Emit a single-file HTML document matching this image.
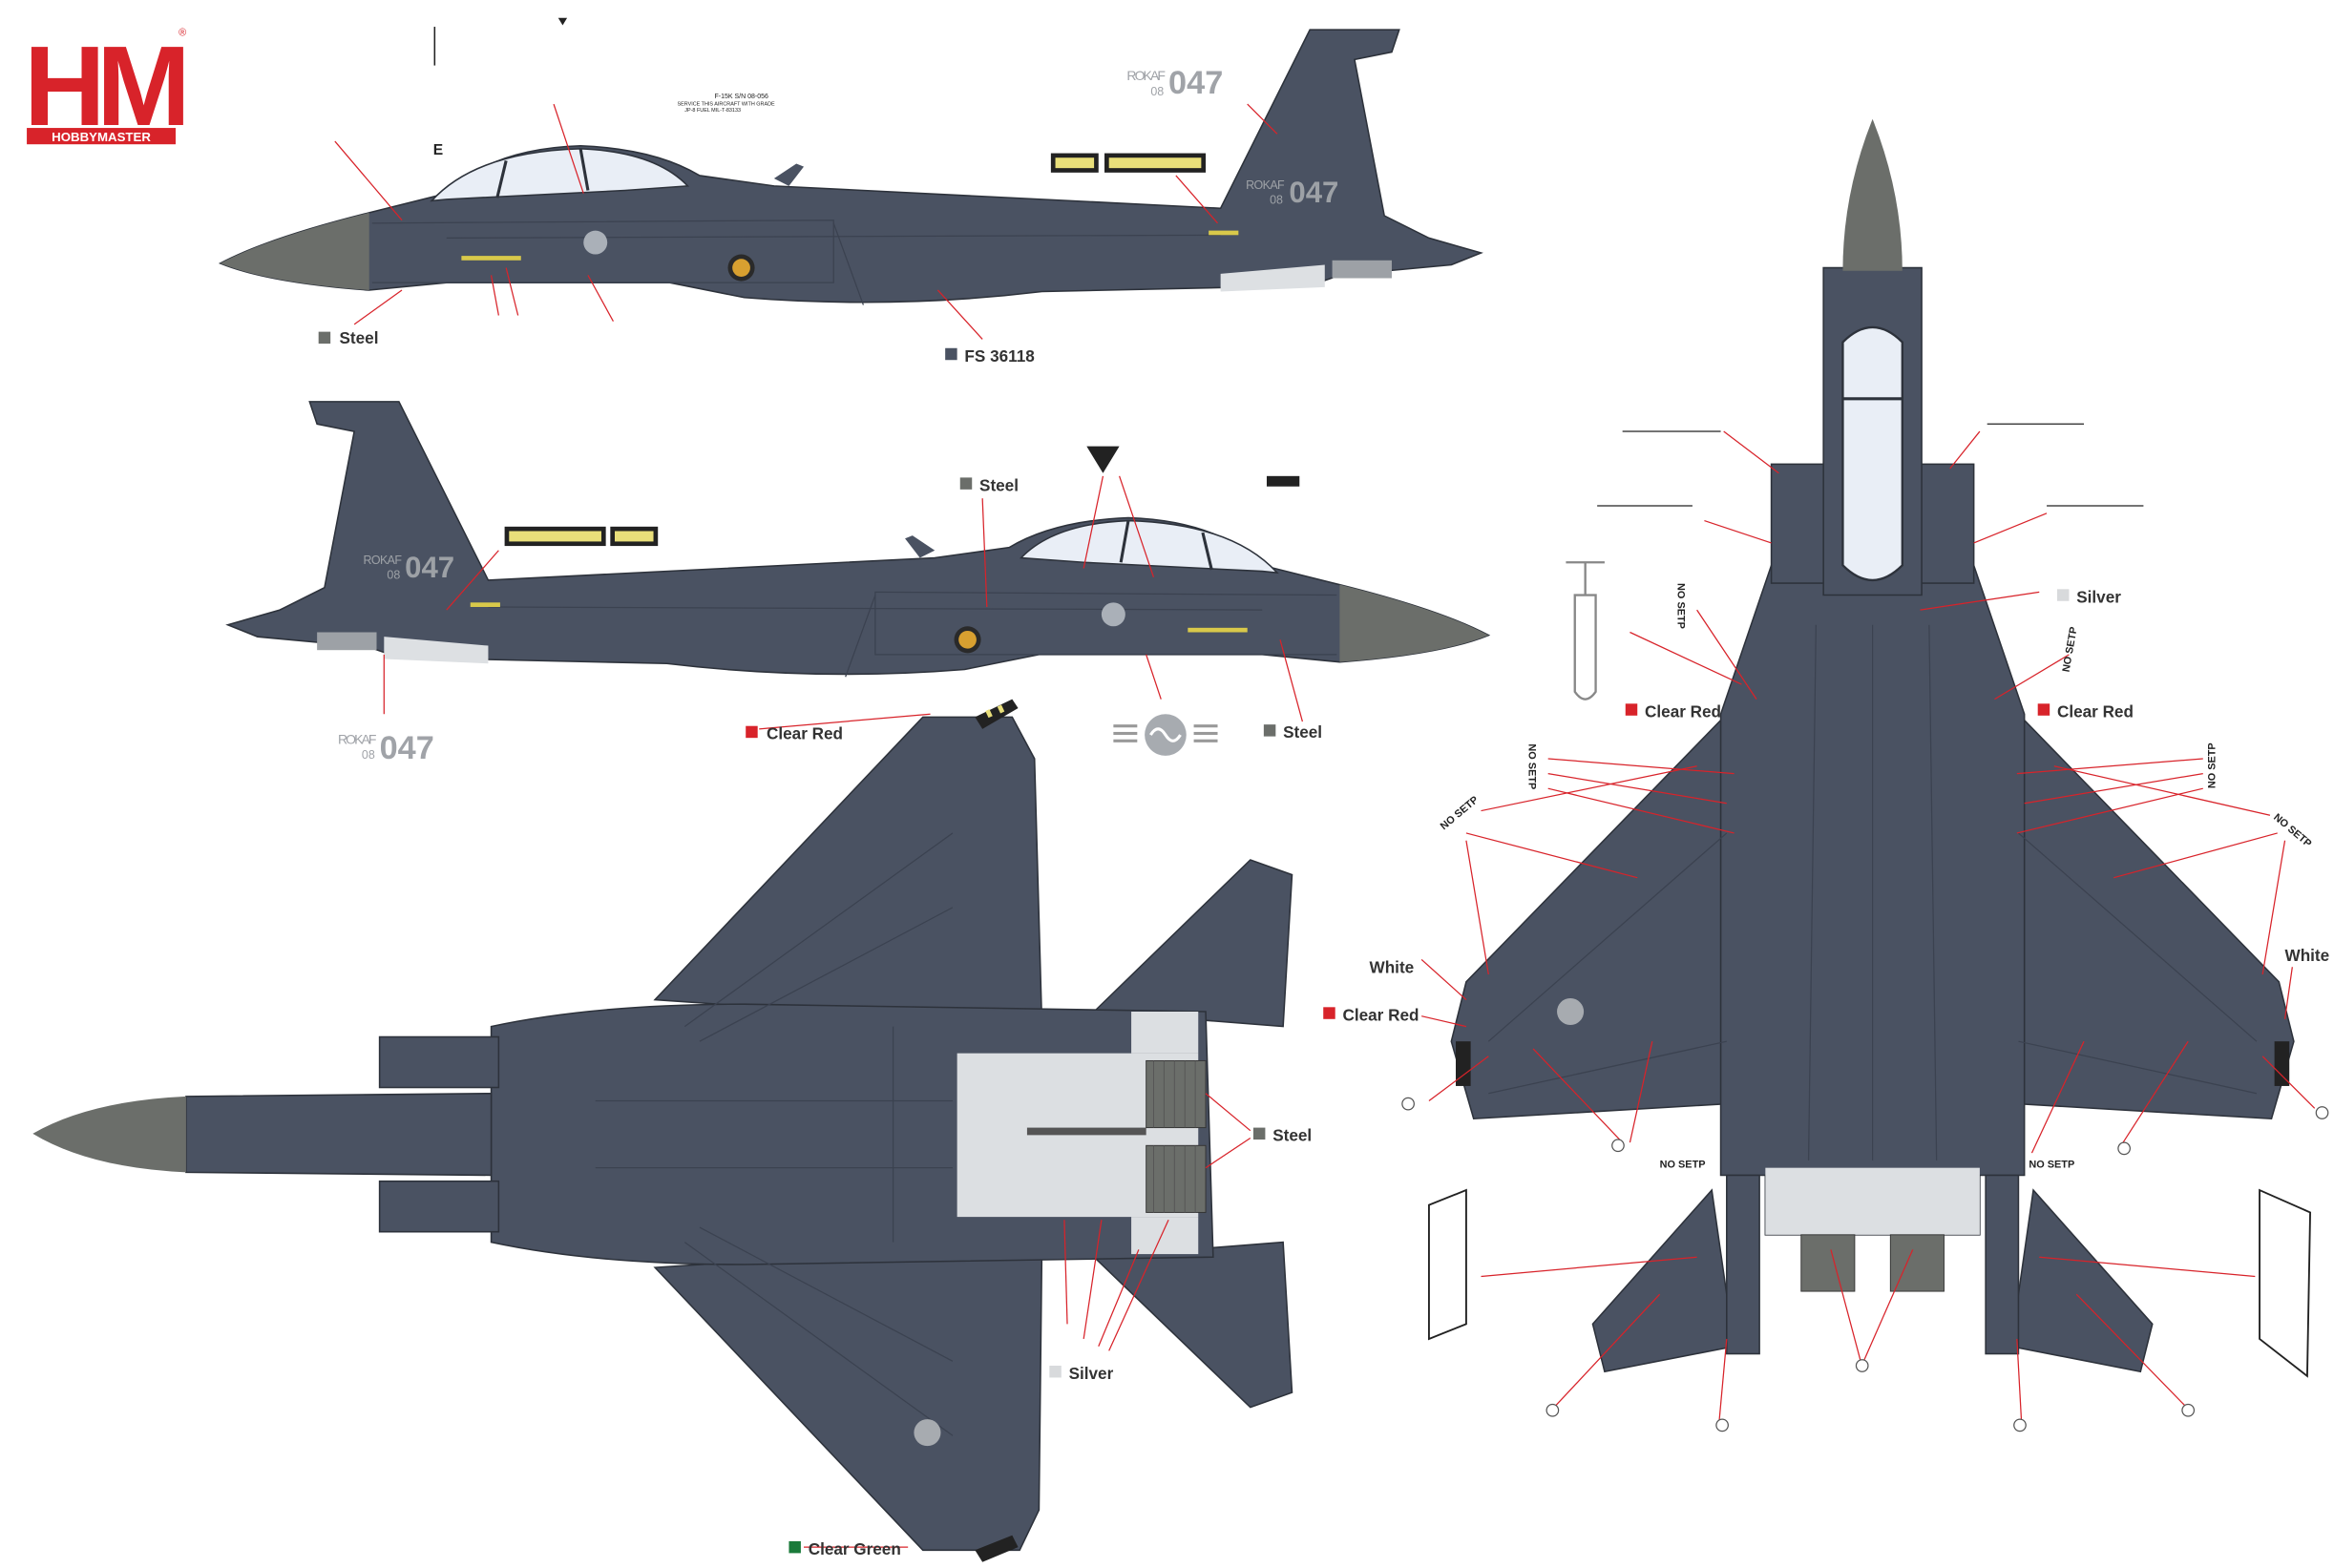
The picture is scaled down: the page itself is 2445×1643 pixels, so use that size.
<!DOCTYPE html>
<html><head><meta charset="utf-8"><style>
html,body{margin:0;padding:0;background:#fff;}
svg{display:block;}
text{font-family:"Liberation Sans",sans-serif;}
</style></head><body>
<svg width="2445" height="1643" viewBox="0 0 1568 1054" preserveAspectRatio="none" xmlns="http://www.w3.org/2000/svg">
<defs>
<g id="side">
  <path d="M148,177 Q180,160 248,143 L300,130 Q330,100 390,98 Q440,100 470,118 L520,125 L820,140 L880,20 L940,20 L935,35 L910,40 L930,145 L960,160 L995,170 L975,178 L900,185 L880,192 L700,196 Q600,208 500,200 L450,190 L300,190 L248,195 Q180,190 148,177 Z" fill="#4a5262" stroke="#2d323b" stroke-width="1"/>
  <path d="M148,177 Q180,160 248,143 L248,195 Q180,190 148,177Z" fill="#6b6e6a"/>
  <path d="M290,135 Q320,102 390,100 Q440,102 462,125 L420,128 L300,134 Z" fill="#e9eef6" stroke="#2d323b" stroke-width="1"/>
  <line x1="390" y1="100" x2="395" y2="128" stroke="#2d323b" stroke-width="2"/>
  <line x1="340" y1="108" x2="334" y2="133" stroke="#2d323b" stroke-width="2"/>
  <path d="M820,184 L890,178 L890,193 L820,196Z" fill="#dde0e3"/>
  <rect x="895" y="175" width="40" height="12" fill="#9da1a6"/>
  <path d="M250,150 L560,148 L560,190 L250,190" fill="none" stroke="#3b4250" stroke-width="0.8"/>
  <line x1="300" y1="160" x2="820" y2="158" stroke="#3b4250" stroke-width="0.8"/>
  <line x1="560" y1="150" x2="580" y2="205" stroke="#3b4250" stroke-width="0.8"/>
  <rect x="310" y="172" width="40" height="3" fill="#d9c94a"/>
  <rect x="812" y="155" width="20" height="3" fill="#d9c94a"/>
  <circle cx="400" cy="163" r="8" fill="#aab0b8"/>
  <circle cx="498" cy="180" r="9" fill="#2a2a2a"/><circle cx="498" cy="180" r="6" fill="#d8a030"/>
  <path d="M520,120 L535,110 L540,112 L530,125Z" fill="#4a5262"/>
</g>
</defs>

<text x="16" y="84" font-size="76" font-weight="bold" fill="#d8232a" letter-spacing="-6">HM</text>
<rect x="18" y="86" width="100" height="11" fill="#d8232a"/>
<text x="68" y="95" font-size="8.5" font-weight="bold" fill="#fff" text-anchor="middle">HOBBYMASTER</text>
<text x="120" y="24" font-size="7" fill="#d8232a">®</text>

<use href="#side"/>
<text x="757" y="54" font-size="9" fill="#a0a3a8" textLength="26">ROKAF</text><text x="773" y="64" font-size="8" fill="#a0a3a8">08</text>
<text x="785" y="63" font-size="22" fill="#a0a3a8" font-weight="bold">047</text>
<text x="837" y="127" font-size="8" fill="#9da1a6" textLength="26">ROKAF</text><text x="853" y="137" font-size="8" fill="#9da1a6">08</text>
<text x="866" y="136" font-size="20" fill="#9da1a6" font-weight="bold">047</text>
<text x="480" y="66" font-size="4.5" fill="#222">F-15K S/N 08-056</text>
<text x="455" y="71" font-size="3.5" fill="#222">SERVICE THIS AIRCRAFT WITH GRADE</text>
<text x="460" y="75" font-size="3.5" fill="#222">JP-8 FUEL MIL-T-83133</text>
<rect x="706" y="103" width="32" height="13" fill="#222"/><rect x="709" y="106" width="26" height="7" fill="#e9df7a"/>
<rect x="742" y="103" width="68" height="13" fill="#222"/><rect x="745" y="106" width="62" height="7" fill="#e9df7a"/>
<text x="291" y="104" font-size="10" font-weight="bold" fill="#222">E</text>
<line x1="292" y1="18" x2="292" y2="44" stroke="#222" stroke-width="1"/>
<path d="M375,12 L381,12 L378,17Z" fill="#222"/>
<g stroke="#d8232a" stroke-width="0.8" fill="none">
<line x1="225" y1="95" x2="270" y2="148"/><line x1="372" y1="70" x2="392" y2="130"/>
<line x1="270" y1="195" x2="238" y2="218"/><line x1="330" y1="185" x2="335" y2="212"/>
<line x1="340" y1="180" x2="348" y2="212"/><line x1="395" y1="185" x2="412" y2="216"/>
<line x1="630" y1="195" x2="660" y2="228"/><line x1="838" y1="70" x2="858" y2="90"/>
<line x1="790" y1="118" x2="818" y2="150"/>
</g>
<rect x="214" y="223" width="8" height="8" fill="#6b6e6a"/><text x="228" y="231" font-size="11" font-weight="bold" fill="#333">Steel</text>
<rect x="635" y="234" width="8" height="8" fill="#4a5262"/><text x="648" y="243" font-size="11" font-weight="bold" fill="#333">FS 36118</text>

<g transform="translate(1148,250) scale(-1,1)"><use href="#side"/></g>
<text x="244" y="379" font-size="8" fill="#9da1a6" textLength="26">ROKAF</text><text x="260" y="389" font-size="8" fill="#9da1a6">08</text>
<text x="272" y="388" font-size="20" fill="#9da1a6" font-weight="bold">047</text>
<text x="227" y="500" font-size="9" fill="#a0a3a8" textLength="26">ROKAF</text><text x="243" y="510" font-size="8" fill="#a0a3a8">08</text>
<text x="255" y="510" font-size="22" fill="#a0a3a8" font-weight="bold">047</text>
<rect x="339" y="354" width="68" height="13" fill="#222"/><rect x="342" y="357" width="62" height="7" fill="#e9df7a"/>
<rect x="410" y="354" width="32" height="13" fill="#222"/><rect x="413" y="357" width="26" height="7" fill="#e9df7a"/>
<path d="M730,300 L752,300 L741,318Z" fill="#222"/>
<rect x="851" y="320" width="22" height="7" fill="#222"/>
<g fill="#999"><rect x="748" y="487" width="16" height="2"/><rect x="748" y="492" width="16" height="2"/><rect x="748" y="497" width="16" height="2"/>
<rect x="802" y="487" width="16" height="2"/><rect x="802" y="492" width="16" height="2"/><rect x="802" y="497" width="16" height="2"/></g>
<circle cx="783" cy="494" r="14" fill="#a7abb0"/><path d="M773,494 Q778,486 783,494 Q788,502 793,494" stroke="#fff" stroke-width="2" fill="none"/>
<g stroke="#d8232a" stroke-width="0.8" fill="none">
<line x1="660" y1="335" x2="663" y2="408"/><line x1="741" y1="320" x2="728" y2="382"/>
<line x1="752" y1="320" x2="775" y2="388"/><line x1="770" y1="440" x2="780" y2="470"/>
<line x1="860" y1="430" x2="875" y2="485"/><line x1="300" y1="410" x2="335" y2="370"/>
<line x1="258" y1="440" x2="258" y2="480"/><line x1="510" y1="490" x2="625" y2="480"/>
</g>
<rect x="645" y="321" width="8" height="8" fill="#6b6e6a"/><text x="658" y="330" font-size="11" font-weight="bold" fill="#333">Steel</text>
<rect x="501" y="488" width="8" height="8" fill="#d8232a"/><text x="515" y="497" font-size="11" font-weight="bold" fill="#333">Clear Red</text>
<rect x="849" y="487" width="8" height="8" fill="#6b6e6a"/><text x="862" y="496" font-size="11" font-weight="bold" fill="#333">Steel</text>

<g fill="#4a5262" stroke="#2d323b" stroke-width="1">
<path d="M440,672 L620,482 L680,482 L695,510 L700,690 Z"/>
<path d="M440,852 L620,1042 L685,1042 L698,1015 L700,835 Z"/>
<path d="M735,680 L840,578 L868,588 L862,690 Z"/>
<path d="M735,845 L840,946 L868,936 L862,835 Z"/>
<path d="M330,690 Q400,675 500,675 L810,680 L815,845 L500,850 Q400,850 330,835 Z"/>
<rect x="255" y="697" width="80" height="34"/>
<rect x="255" y="794" width="80" height="34"/>
<path d="M125,737 L330,735 L330,790 L125,788 Z"/>
</g>
<path d="M22,762 Q60,740 125,737 L125,788 Q60,785 22,762Z" fill="#6b6e6a"/>
<rect x="643" y="708" width="162" height="110" fill="#dcdfe2"/>
<rect x="760" y="680" width="45" height="28" fill="#dcdfe2"/><rect x="760" y="818" width="45" height="25" fill="#dcdfe2"/>
<rect x="690" y="758" width="80" height="5" fill="#555"/>
<g fill="#6b6e6a" stroke="#333" stroke-width="0.6">
<rect x="770" y="713" width="40" height="45"/><rect x="770" y="770" width="40" height="45"/></g>
<g stroke="#555" stroke-width="0.6">
<line x1="775" y1="713" x2="775" y2="758"/><line x1="782" y1="713" x2="782" y2="758"/><line x1="789" y1="713" x2="789" y2="758"/><line x1="796" y1="713" x2="796" y2="758"/><line x1="803" y1="713" x2="803" y2="758"/>
<line x1="775" y1="770" x2="775" y2="815"/><line x1="782" y1="770" x2="782" y2="815"/><line x1="789" y1="770" x2="789" y2="815"/><line x1="796" y1="770" x2="796" y2="815"/><line x1="803" y1="770" x2="803" y2="815"/>
</g>
<g stroke="#3b4250" stroke-width="0.8" fill="none">
<line x1="460" y1="690" x2="640" y2="560"/><line x1="470" y1="700" x2="640" y2="610"/>
<line x1="460" y1="835" x2="640" y2="965"/><line x1="470" y1="825" x2="640" y2="915"/>
<line x1="600" y1="690" x2="600" y2="835"/><line x1="400" y1="740" x2="640" y2="740"/><line x1="400" y1="785" x2="640" y2="785"/>
</g>
<g fill="#222"><path d="M655,482 L680,470 L684,476 L660,490Z"/><path d="M655,1042 L680,1032 L684,1040 L660,1050Z"/></g>
<g fill="#e9df7a"><rect x="662" y="478" width="3" height="5" transform="rotate(-25 662 478)"/><rect x="670" y="475" width="3" height="5" transform="rotate(-25 670 475)"/></g>
<circle cx="623" cy="963" r="9" fill="#a7abb0"/>
<g stroke="#d8232a" stroke-width="0.8" fill="none">
<line x1="810" y1="735" x2="840" y2="760"/><line x1="810" y1="785" x2="840" y2="765"/>
<line x1="715" y1="820" x2="717" y2="890"/><line x1="740" y1="820" x2="728" y2="900"/><line x1="765" y1="840" x2="738" y2="905"/><line x1="785" y1="820" x2="745" y2="908"/>
<line x1="610" y1="1040" x2="540" y2="1040"/>
</g>
<rect x="842" y="758" width="8" height="8" fill="#6b6e6a"/><text x="855" y="767" font-size="11" font-weight="bold" fill="#333">Steel</text>
<rect x="705" y="918" width="8" height="8" fill="#d8dadc"/><text x="718" y="927" font-size="11" font-weight="bold" fill="#333">Silver</text>
<rect x="530" y="1036" width="8" height="8" fill="#1a7a3a"/><text x="543" y="1045" font-size="11" font-weight="bold" fill="#333">Clear Green</text>

<g fill="#4a5262" stroke="#2d323b" stroke-width="1">
<path d="M1160,480 L985,660 L975,700 L990,752 L1160,742 Z"/>
<path d="M1356,480 L1531,660 L1541,700 L1526,752 L1356,742 Z"/>
<path d="M1150,800 L1070,890 L1078,922 L1165,905 Z"/>
<path d="M1366,800 L1446,890 L1438,922 L1351,905 Z"/>
<path d="M1190,380 L1326,380 L1360,480 L1360,790 L1330,790 L1330,830 L1186,830 L1186,790 L1156,790 L1156,480 Z"/>
<rect x="1190" y="312" width="36" height="80"/><rect x="1290" y="312" width="36" height="80"/>
<path d="M1225,180 L1291,180 L1291,400 L1225,400 Z"/>
<rect x="1160" y="790" width="22" height="120"/><rect x="1334" y="790" width="22" height="120"/>
</g>
<path d="M1258,80 Q1238,130 1238,182 L1278,182 Q1278,130 1258,80Z" fill="#6b6e6a"/>
<path d="M1238,230 Q1258,210 1278,230 L1278,380 Q1258,400 1238,380 Z" fill="#e9eef6" stroke="#2d323b" stroke-width="1.5"/>
<line x1="1238" y1="268" x2="1278" y2="268" stroke="#2d323b" stroke-width="2"/>
<rect x="1186" y="785" width="144" height="45" fill="#dcdfe2"/>
<g fill="#6b6e6a" stroke="#333" stroke-width="0.6"><rect x="1210" y="830" width="36" height="38"/><rect x="1270" y="830" width="36" height="38"/></g>
<g stroke="#3b4250" stroke-width="0.8" fill="none">
<line x1="1000" y1="700" x2="1160" y2="560"/><line x1="1516" y1="700" x2="1356" y2="560"/>
<line x1="1000" y1="735" x2="1160" y2="700"/><line x1="1516" y1="735" x2="1356" y2="700"/>
<line x1="1258" y1="420" x2="1258" y2="780"/><line x1="1220" y1="420" x2="1215" y2="780"/><line x1="1296" y1="420" x2="1301" y2="780"/>
</g>
<circle cx="1055" cy="680" r="9" fill="#a7abb0"/>
<g fill="#222"><rect x="978" y="700" width="10" height="30"/><rect x="1528" y="700" width="10" height="30"/></g>
<g stroke="#222" stroke-width="0.8"><line x1="1090" y1="290" x2="1156" y2="290"/><line x1="1335" y1="285" x2="1400" y2="285"/><line x1="1073" y1="340" x2="1137" y2="340"/><line x1="1375" y1="340" x2="1440" y2="340"/></g>
<path d="M1052,378 L1078,378 M1065,378 L1065,400 L1058,400 L1058,465 Q1065,475 1072,465 L1072,400 L1065,400" fill="none" stroke="#888" stroke-width="1.5"/>
<path d="M960,810 L985,800 L985,890 L960,900Z" fill="none" stroke="#222" stroke-width="1.2"/>
<path d="M1518,800 L1552,815 L1550,925 L1518,900Z" fill="none" stroke="#222" stroke-width="1.2"/>
<g stroke="#d8232a" stroke-width="0.8" fill="none">
<line x1="1158" y1="290" x2="1195" y2="318"/><line x1="1330" y1="290" x2="1310" y2="315"/>
<line x1="1145" y1="350" x2="1190" y2="365"/><line x1="1375" y1="345" x2="1326" y2="365"/>
<line x1="1140" y1="410" x2="1180" y2="470"/><line x1="1095" y1="425" x2="1170" y2="460"/>
<line x1="1370" y1="398" x2="1290" y2="410"/><line x1="1390" y1="440" x2="1340" y2="470"/>
<line x1="1040" y1="510" x2="1165" y2="520"/><line x1="1040" y1="520" x2="1160" y2="540"/><line x1="1040" y1="530" x2="1165" y2="560"/>
<line x1="995" y1="545" x2="1140" y2="515"/><line x1="985" y1="560" x2="1100" y2="590"/><line x1="985" y1="565" x2="1000" y2="655"/>
<line x1="1480" y1="510" x2="1355" y2="520"/><line x1="1480" y1="520" x2="1360" y2="540"/><line x1="1480" y1="530" x2="1355" y2="560"/>
<line x1="1525" y1="548" x2="1380" y2="515"/><line x1="1530" y1="560" x2="1420" y2="590"/><line x1="1535" y1="565" x2="1520" y2="655"/>
<line x1="955" y1="645" x2="985" y2="672"/><line x1="955" y1="683" x2="985" y2="690"/><line x1="1540" y1="650" x2="1535" y2="685"/>
<line x1="960" y1="740" x2="1000" y2="710"/><line x1="1555" y1="745" x2="1520" y2="710"/>
<line x1="1090" y1="768" x2="1030" y2="705"/><line x1="1095" y1="768" x2="1110" y2="700"/>
<line x1="1365" y1="775" x2="1400" y2="700"/><line x1="1425" y1="770" x2="1470" y2="700"/>
<line x1="1250" y1="915" x2="1230" y2="840"/><line x1="1252" y1="915" x2="1285" y2="840"/>
<line x1="995" y1="858" x2="1140" y2="845"/><line x1="1515" y1="858" x2="1370" y2="845"/>
<line x1="1045" y1="945" x2="1115" y2="870"/><line x1="1468" y1="945" x2="1395" y2="870"/>
<line x1="1155" y1="955" x2="1160" y2="900"/><line x1="1358" y1="955" x2="1355" y2="900"/>
</g>
<g fill="#fff" stroke="#555" stroke-width="0.8">
<circle cx="946" cy="742" r="4"/><circle cx="1087" cy="770" r="4"/><circle cx="1251" cy="918" r="4"/><circle cx="1427" cy="772" r="4"/><circle cx="1560" cy="748" r="4"/><circle cx="1470" cy="948" r="4"/><circle cx="1043" cy="948" r="4"/><circle cx="1157" cy="958" r="4"/><circle cx="1357" cy="958" r="4"/></g>
<g font-size="7" font-weight="bold" fill="#222">
<text x="1115" y="785">NO SETP</text><text x="1363" y="785">NO SETP</text>
<text transform="translate(1127,392) rotate(90)">NO SETP</text>
<text transform="translate(1390,452) rotate(-80)">NO SETP</text>
<text transform="translate(1027,500) rotate(90)">NO SETP</text>
<text transform="translate(1488,530) rotate(-90)">NO SETP</text>
<text transform="translate(970,558) rotate(-40)">NO SETP</text>
<text transform="translate(1527,550) rotate(40)">NO SETP</text>
</g>
<rect x="1382" y="396" width="8" height="8" fill="#d8dadc"/><text x="1395" y="405" font-size="11" font-weight="bold" fill="#333">Silver</text>
<rect x="1092" y="473" width="8" height="8" fill="#d8232a"/><text x="1105" y="482" font-size="11" font-weight="bold" fill="#333">Clear Red</text>
<rect x="1369" y="473" width="8" height="8" fill="#d8232a"/><text x="1382" y="482" font-size="11" font-weight="bold" fill="#333">Clear Red</text>
<text x="920" y="654" font-size="11" font-weight="bold" fill="#333">White</text>
<rect x="889" y="677" width="8" height="8" fill="#d8232a"/><text x="902" y="686" font-size="11" font-weight="bold" fill="#333">Clear Red</text>
<text x="1535" y="646" font-size="11" font-weight="bold" fill="#333">White</text>
</svg>
</body></html>
